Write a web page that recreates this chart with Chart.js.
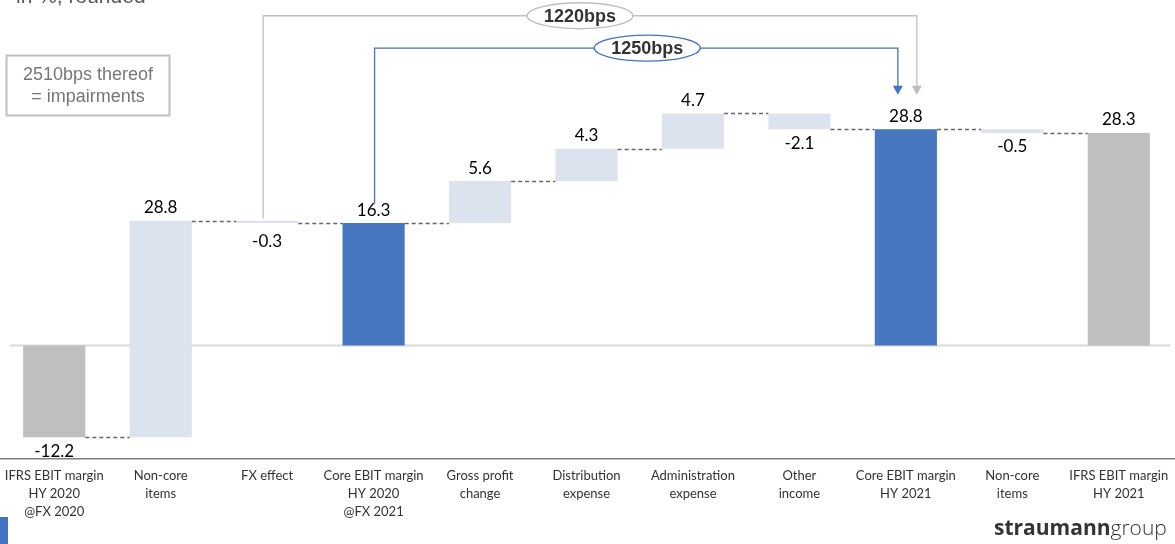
<!DOCTYPE html>
<html><head><meta charset="utf-8">
<script src="https://cdn.jsdelivr.net/npm/chart.js@4"></script>
<style>html,body{margin:0;padding:0;background:#fff;}#wrap{position:relative;width:1175px;height:544px;}</style>
</head><body><div id="wrap"><canvas id="c" width="1175" height="544"></canvas></div>
<script>
const categories = [
  ['IFRS EBIT margin','HY 2020','@FX 2020'],
  ['Non-core','items'],
  ['FX effect'],
  ['Core EBIT margin','HY 2020','@FX 2021'],
  ['Gross profit','change'],
  ['Distribution','expense'],
  ['Administration','expense'],
  ['Other','income'],
  ['Core EBIT margin','HY 2021'],
  ['Non-core','items'],
  ['IFRS EBIT margin','HY 2021']
];
const values = [-12.2, 28.8, -0.3, 16.3, 5.6, 4.3, 4.7, -2.1, 28.8, -0.5, 28.3];
const kinds  = ['ifrs','delta','delta','core','delta','delta','delta','delta','core','delta','ifrs'];
const valueLabels = ['-12.2','28.8','-0.3','16.3','5.6','4.3','4.7','-2.1','28.8','-0.5','28.3'];
const brackets = [
  {from:2, to:8, startGap:0.6, level:43.9, end:33.4, label:'1220bps', color:'#BFBFBF', fromOff:-4, toOff:11, labelShift:-10},
  {from:3, to:8, startGap:2.6, level:39.6, end:33.4, label:'1250bps', color:'#4472C4', fromOff:1, toOff:-8, labelShift:11}
];

const palette = {ifrs:'#BFBFBF', core:'#4677BF', delta:'#DDE3EE'};
// build floating ranges
const ranges = [];
let cum = 0;
values.forEach((v,i)=>{
  if (kinds[i] === 'delta') { ranges.push([cum, +(cum+v).toFixed(1)]); cum = +(cum+v).toFixed(1); }
  else { ranges.push([0, v]); cum = v; }
});

const deco = {
  id:'deco',
  beforeDatasetsDraw(chart){
    const {ctx, scales:{y}} = chart;
    const y0 = y.getPixelForValue(0);
    ctx.save();
    ctx.strokeStyle = '#D9D9D9'; ctx.lineWidth = 2;
    ctx.beginPath(); ctx.moveTo(10, y0); ctx.lineTo(1170, y0); ctx.stroke();
    ctx.restore();
  },
  afterDatasetsDraw(chart){
    const {ctx, scales:{y}} = chart;
    const meta = chart.getDatasetMeta(0);
    ctx.save();
    // connectors
    ctx.strokeStyle = '#666666'; ctx.lineWidth = 1.5; ctx.setLineDash([4,3]);
    for (let i=0;i<meta.data.length-1;i++){
      const a = meta.data[i], b = meta.data[i+1];
      const lvl = ranges[i][1];
      const py = Math.round(y.getPixelForValue(lvl))+0.5;
      ctx.beginPath(); ctx.moveTo(a.x + a.width/2, py); ctx.lineTo(b.x - b.width/2, py); ctx.stroke();
    }
    ctx.setLineDash([]);
    // value labels
    ctx.font = '17px Lato, "Open Sans", sans-serif';
    ctx.fillStyle = '#000'; ctx.textAlign = 'center'; ctx.textBaseline = 'middle';
    meta.data.forEach((el,i)=>{
      const top = Math.max(ranges[i][0], ranges[i][1]);
      const bot = Math.min(ranges[i][0], ranges[i][1]);
      const thin = Math.abs(values[i]) < 0.4 ? 4 : 0;
      if (values[i] >= 0) ctx.fillText(valueLabels[i], el.x, y.getPixelForValue(top) - 13);
      else ctx.fillText(valueLabels[i], el.x, y.getPixelForValue(bot) + 14 + thin);
    });
    // brackets
    brackets.forEach(b=>{
      const a = meta.data[b.from], t = meta.data[b.to];
      const x1 = a.x + b.fromOff, x2 = t.x + b.toOff;
      const ys = y.getPixelForValue(ranges[b.from][1] + b.startGap);
      const yl = y.getPixelForValue(b.level);
      const ye = y.getPixelForValue(b.end);
      ctx.strokeStyle = b.color; ctx.lineWidth = 1.3;
      ctx.beginPath(); ctx.moveTo(x1, ys); ctx.lineTo(x1, yl); ctx.lineTo(x2, yl); ctx.lineTo(x2, ye-8); ctx.stroke();
      ctx.fillStyle = b.color;
      ctx.beginPath(); ctx.moveTo(x2-5, ye-9); ctx.lineTo(x2+5, ye-9); ctx.lineTo(x2, ye); ctx.closePath(); ctx.fill();
      const cx = (x1 + x2)/2 + b.labelShift;
      ctx.fillStyle = '#fff'; ctx.strokeStyle = b.color; ctx.lineWidth = 1.3;
      ctx.beginPath(); ctx.ellipse(cx, yl, 53, 13, 0, 0, Math.PI*2); ctx.fill(); ctx.stroke();
      ctx.fillStyle = '#333'; ctx.font = 'bold 18px "Liberation Sans", Arial, sans-serif';
      ctx.fillText(b.label, cx, yl+1);
    });
    // header text (cut off)
    ctx.fillStyle = '#595959'; ctx.textAlign='left'; ctx.textBaseline='alphabetic';
    ctx.font = '21px "Liberation Sans", Arial, sans-serif';
    ctx.fillText('in %, rounded', 16, 3);
    // box
    ctx.strokeStyle = '#BFBFBF'; ctx.lineWidth = 2;
    ctx.strokeRect(6.5, 55.5, 163, 60);
    ctx.fillStyle = '#767676'; ctx.textAlign='center'; ctx.textBaseline='middle';
    ctx.font = '18px "Liberation Sans", Arial, sans-serif';
    ctx.fillText('2510bps thereof', 88, 75);
    ctx.fillText('= impairments', 88, 97);
    // bottom axis line across
    ctx.strokeStyle = '#7F7F7F'; ctx.lineWidth = 1.5;
    ctx.beginPath(); ctx.moveTo(0, chart.chartArea.bottom+0.5); ctx.lineTo(1175, chart.chartArea.bottom+0.5); ctx.stroke();
    // blue square
    ctx.fillStyle = '#4472C4'; ctx.fillRect(0, 517, 8, 27);
    // logo
    ctx.textAlign='left'; ctx.textBaseline='alphabetic'; ctx.fillStyle = '#333333';
    ctx.font = 'bold 21px "Open Sans", sans-serif';
    const w = ctx.measureText('straumann').width;
    ctx.fillText('straumann', 994, 535);
    ctx.font = '300 21px "Open Sans", sans-serif';
    ctx.fillText('group', 994 + w, 535);
    ctx.restore();
  }
};

new Chart(document.getElementById('c'), {
  type:'bar',
  data:{ labels: categories, datasets:[{ data: ranges, backgroundColor: kinds.map(k=>palette[k]), borderWidth:0, barPercentage:0.584, categoryPercentage:1 }]},
  options:{
    responsive:false, animation:false,
    layout:{ autoPadding:false, padding:{ left:1, right:3, top:0, bottom:14 } },
    plugins:{ legend:{display:false}, tooltip:{enabled:false} },
    scales:{
      x:{ grid:{display:false, drawTicks:false}, border:{display:false},
          afterFit(s){ s.paddingLeft = 0; s.paddingRight = 0; },
          ticks:{ color:'#333', padding:9, maxRotation:0, autoSkip:false, font:{ family:'Lato, "Open Sans", sans-serif', size:13, lineHeight:1.38 } } },
      y:{ display:false, min:-15, max:46 }
    }
  },
  plugins:[deco]
});
</script></body></html>
